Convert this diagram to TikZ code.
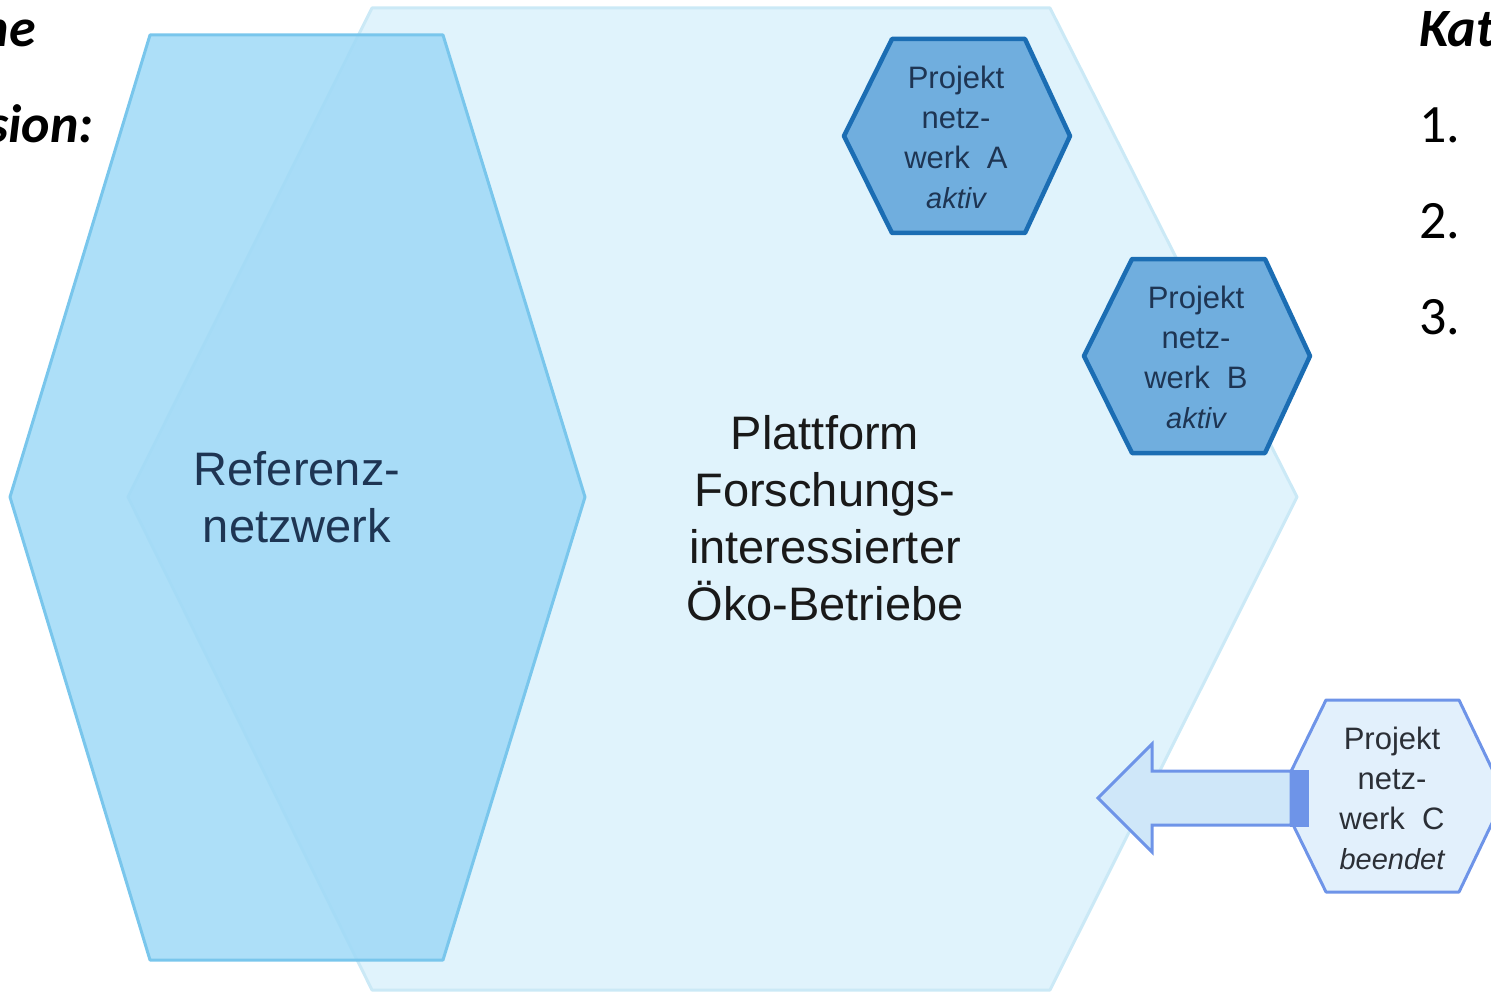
\documentclass[tikz,border=0pt]{standalone}
\usepackage{fontspec}
\setmainfont{Liberation Sans}
\newfontfamily\carlito{Carlito}
\definecolor{platfill}{HTML}{E0F3FC}
\definecolor{platline}{HTML}{CBE9F6}
\definecolor{reffill}{HTML}{9FD9F7}
\definecolor{refline}{HTML}{79C6EC}
\definecolor{actfill}{HTML}{70AEDE}
\definecolor{actline}{HTML}{1B6DB3}
\definecolor{endfill}{HTML}{E2F0FC}
\definecolor{endline}{HTML}{6E94E8}
\definecolor{arrfill}{HTML}{CFE7F9}
\definecolor{navy}{HTML}{1E3553}
\definecolor{dgray}{HTML}{2B2F36}
\begin{document}
\begin{tikzpicture}[x=1pt,y=-1pt,
  bighex/.style={fill=platfill,draw=platline,line width=3pt,line join=round},
  refhex/.style={fill=reffill,fill opacity=0.85,draw=refline,line width=3pt,line join=round},
  acthex/.style={fill=actfill,draw=actline,line width=4.5pt,line join=round},
  endhex/.style={fill=endfill,draw=endline,line width=3pt,line join=round},
  blockarrow/.style={fill=arrfill,draw=endline,line width=3pt,line join=miter},
  bigtext/.style={align=center,font=\fontsize{47}{57}\selectfont,inner sep=0pt},
  hextext/.style={align=center,font=\fontsize{31}{40}\selectfont,inner sep=0pt},
  sidetext/.style={font=\carlito\fontsize{54}{60}\selectfont,inner sep=0pt}]
\useasboundingbox (0,0) rectangle (1491,995);
% platform hexagon
\draw[bighex] (372,8) -- (1050,8) -- (1297,497) -- (1050,990) -- (372,990) -- (128,497) -- cycle;
% reference network hexagon
\draw[refhex] (150,35) -- (443,35) -- (585,497) -- (443,960) -- (150,960) -- (10,497) -- cycle;
% project network A
\draw[acthex] (892,39) -- (1025,39) -- (1070,136) -- (1025,233) -- (892,233) -- (844,136) -- cycle;
% project network B
\draw[acthex] (1132,259) -- (1265,259) -- (1310,356) -- (1265,453) -- (1132,453) -- (1084,356) -- cycle;
% project network C
\draw[endhex] (1326,700) -- (1459,700) -- (1505,796) -- (1459,892) -- (1326,892) -- (1279,796) -- cycle;
% arrow from C into platform
\draw[blockarrow] (1098,798) -- (1152,744) -- (1152,771) -- (1291,771) -- (1291,825) -- (1152,825) -- (1152,852) -- cycle;
\fill[endline] (1290,769.5) rectangle (1309,826.5);
% texts
\node[bigtext,text=navy] (ref) at (297,497) {Referenz-\\netzwerk};
\node[bigtext,text=black!90] (plat) at (825,518) {Plattform\\Forschungs-\\interessierter\\Öko-Betriebe};
\node[hextext,text=navy] (pa) at (956,137) {Projekt\\netz-\\werk\ \ A\\{\fontsize{29}{40}\selectfont\itshape aktiv}};
\node[hextext,text=navy] (pb) at (1196,357) {Projekt\\netz-\\werk\ \ B\\{\fontsize{29}{40}\selectfont\itshape aktiv}};
\node[hextext,text=dgray] (pc) at (1392,798) {Projekt\\netz-\\werk\ \ C\\{\fontsize{29}{40}\selectfont\itshape beendet}};
\node[sidetext,anchor=base east] (l1) at (36,47) {\bfseries\itshape ne};
\node[sidetext,anchor=base east] (l2) at (94,143) {\bfseries\itshape sion:};
\node[sidetext,anchor=base west] (r0) at (1419,47) {\bfseries\itshape Kat};
\node[sidetext,anchor=base west] (r1) at (1419,143) {1.};
\node[sidetext,anchor=base west] (r2) at (1419,239) {2.};
\node[sidetext,anchor=base west] (r3) at (1419,334) {3.};
\end{tikzpicture}
\end{document}
